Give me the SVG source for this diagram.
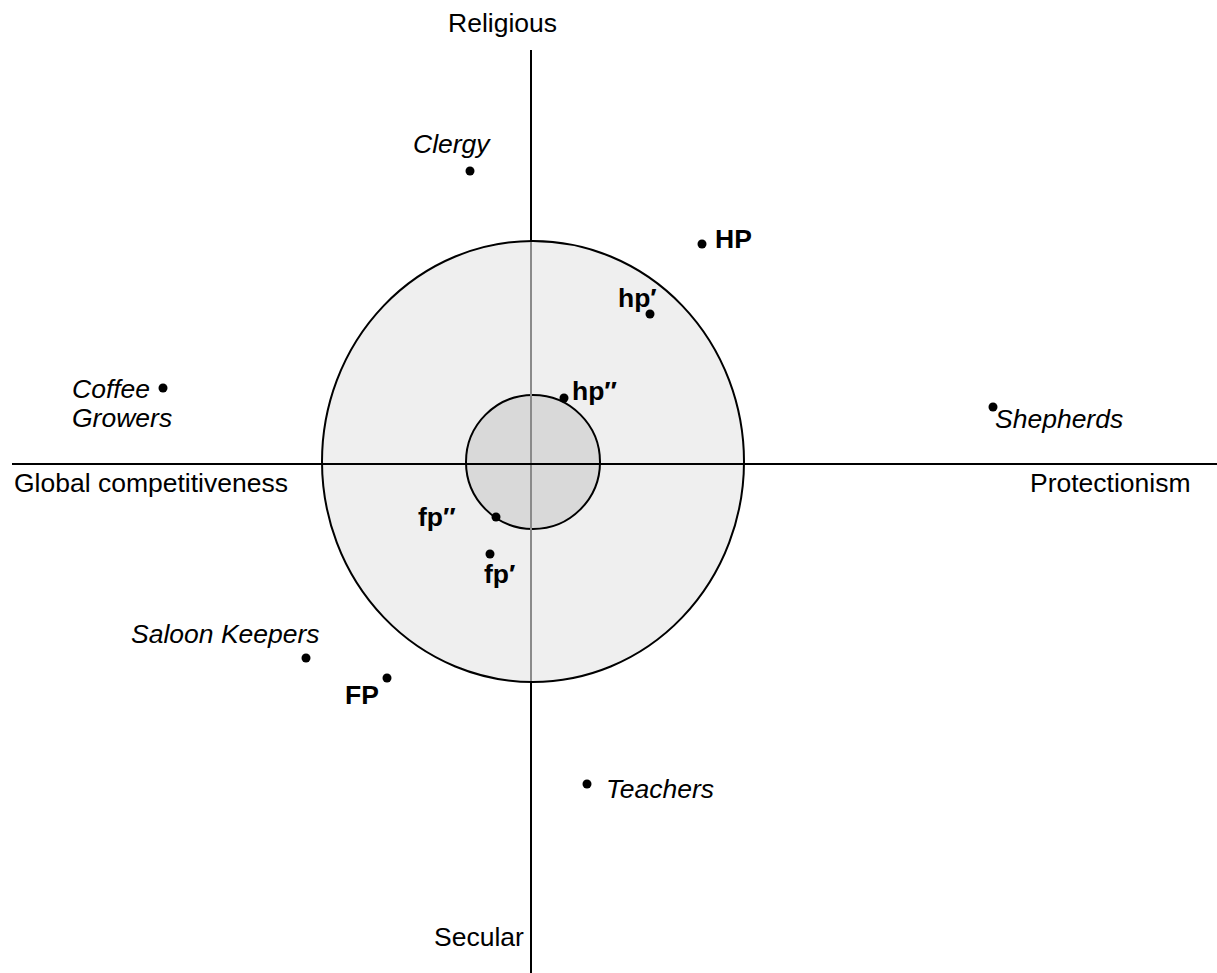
<svg xmlns="http://www.w3.org/2000/svg" width="1217" height="973" viewBox="0 0 1217 973">
<style>
text{font-family:"Liberation Sans",Arial,sans-serif;font-size:26.5px;fill:#000}
.it{font-style:italic}
.b{font-weight:bold}
.dot{fill:#000}
.axis{stroke:#000;stroke-width:2;fill:none}
.ring{stroke:#000;stroke-width:2}
</style>
<rect width="1217" height="973" fill="#fff"/>
<g id="regions">
<ellipse cx="533" cy="461.5" rx="211" ry="220.5" fill="#efefef" class="ring"/>
<circle cx="533" cy="462" r="67" fill="#d9d9d9" class="ring"/>
</g>
<g id="connectors">
<line class="axis" x1="531" y1="50" x2="531" y2="241"/>
<line x1="531" y1="242" x2="531" y2="681" stroke="#8a8a8a" stroke-width="2"/>
<line class="axis" x1="531" y1="682" x2="531" y2="973"/>
<line class="axis" x1="12" y1="464" x2="1217" y2="464"/>
</g>
<g id="axis-labels">
<text x="448" y="32">Religious</text>
<text x="434" y="946">Secular</text>
<text x="14" y="492">Global competitiveness</text>
<text x="1030" y="492">Protectionism</text>
</g>
<g id="clergy"><circle class="dot" cx="470" cy="171" r="4.5"/><text class="it" x="413" y="153">Clergy</text></g>
<g id="coffee-growers"><circle class="dot" cx="163" cy="388" r="4.5"/><text class="it" x="72" y="398">Coffee</text><text class="it" x="72" y="427">Growers</text></g>
<g id="shepherds"><circle class="dot" cx="993" cy="407" r="4.5"/><text class="it" x="995" y="428">Shepherds</text></g>
<g id="teachers"><circle class="dot" cx="587" cy="784" r="4.5"/><text class="it" x="606" y="798">Teachers</text></g>
<g id="saloon-keepers"><circle class="dot" cx="306" cy="658" r="4.5"/><text class="it" x="131" y="643">Saloon Keepers</text></g>
<g id="FP"><circle class="dot" cx="387" cy="678" r="4.5"/><text class="b" x="345" y="704">FP</text></g>
<g id="HP"><circle class="dot" cx="702" cy="244" r="4.5"/><text class="b" x="715" y="248">HP</text></g>
<g id="hp1"><circle class="dot" cx="650" cy="314" r="4.5"/><text class="b" x="618" y="307">hp′</text></g>
<g id="hp2"><circle class="dot" cx="564" cy="398" r="4.5"/><text class="b" x="572" y="400">hp″</text></g>
<g id="fp2"><circle class="dot" cx="496" cy="517" r="4.5"/><text class="b" x="418" y="526">fp″</text></g>
<g id="fp1"><circle class="dot" cx="490" cy="554" r="4.5"/><text class="b" x="484" y="583">fp′</text></g>
</svg>
